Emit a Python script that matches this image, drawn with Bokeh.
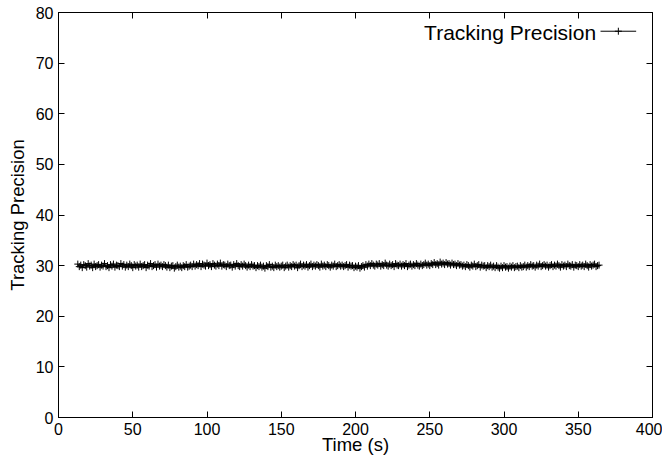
from bokeh.plotting import figure
from bokeh.models import LinearAxis, FixedTicker, Range1d, Label
from bokeh.embed import file_html
from bokeh.resources import INLINE

# ---- data ----
series_name = "Tracking Precision"
x_title = "Time (s)"
y_title = "Tracking Precision"
time_start, time_end = 13, 364
precision = [
    30.3, 29.8, 30.1, 29.6, 30.2, 30.0, 29.7, 30.4, 29.9, 30.1, 29.6, 30.3, 29.8, 30.0, 30.2, 29.7, 30.1, 29.9, 30.4, 29.8,
    30.0, 29.6, 30.2, 29.9, 30.3, 29.7, 30.1, 30.0, 29.8, 30.4, 29.9, 30.2, 29.7, 30.1, 29.8, 30.3, 30.0, 29.6, 30.2, 29.9,
    30.1, 29.7, 30.3, 29.8, 30.0, 30.2, 29.6, 30.1, 29.9, 30.4, 29.8, 30.0, 30.2, 29.7, 30.3, 29.9, 30.1, 29.8, 30.2, 30.0,
    29.7, 30.1, 29.6, 29.9, 30.0, 29.5, 29.8, 30.1, 29.7, 29.9, 29.6, 30.0, 29.8, 30.2, 29.7, 29.9, 30.1, 29.8, 30.3, 29.9,
    30.2, 30.0, 30.4, 29.8, 30.3, 30.1, 29.9, 30.5, 30.0, 30.2, 29.8, 30.4, 30.1, 29.9, 30.3, 30.0, 30.5, 29.9, 30.2, 30.1,
    29.8, 30.3, 30.0, 30.1, 29.7, 30.2, 29.9, 30.4, 30.0, 29.8, 30.2, 29.9, 30.3, 30.0, 29.7, 30.1, 29.8, 30.2, 29.9, 30.0,
    29.6, 30.0, 29.8, 30.1, 29.7, 29.9, 29.5, 30.0, 29.8, 30.2, 29.7, 29.9, 29.6, 30.1, 29.8, 30.0, 29.7, 29.9, 30.1, 29.6,
    29.9, 30.1, 29.7, 30.0, 29.8, 30.2, 29.9, 30.1, 29.6, 30.0, 30.3, 29.8, 30.1, 29.9, 30.2, 29.7, 30.0, 30.3, 29.8, 30.1,
    29.9, 30.2, 30.0, 29.7, 30.3, 29.9, 30.1, 29.8, 30.2, 30.0, 29.7, 30.1, 29.9, 30.3, 29.8, 30.0, 30.2, 29.9, 30.1, 29.8,
    30.0, 30.2, 29.7, 30.1, 29.9, 30.0, 29.6, 29.9, 29.7, 30.0, 29.5, 29.8, 30.0, 29.7, 30.2, 29.9, 30.3, 30.0, 30.4, 30.1,
    29.9, 30.3, 30.1, 30.4, 29.9, 30.2, 30.0, 30.5, 30.1, 29.9, 30.3, 30.0, 30.2, 29.8, 30.4, 30.1, 30.0, 30.3, 29.9, 30.2,
    30.0, 30.4, 29.8, 30.1, 30.3, 29.9, 30.2, 30.0, 30.4, 30.1, 29.9, 30.3, 30.0, 30.2, 30.5, 30.1, 30.3, 30.0, 30.4, 30.2,
    30.6, 30.2, 30.4, 30.1, 30.7, 30.3, 30.5, 30.2, 30.6, 30.3, 30.4, 30.1, 30.5, 30.2, 30.3, 30.0, 30.4, 30.1, 30.2, 29.9,
    30.1, 29.8, 30.2, 30.0, 29.7, 30.1, 29.9, 30.3, 29.8, 30.0, 30.2, 29.7, 30.1, 29.9, 30.0, 29.6, 30.0, 29.8, 30.1, 29.7,
    29.9, 29.6, 30.0, 29.7, 29.5, 29.9, 29.6, 30.0, 29.7, 29.8, 29.5, 29.9, 29.7, 30.0, 29.6, 29.8, 29.9, 29.6, 30.0, 29.7,
    29.8, 30.1, 29.7, 30.0, 29.8, 30.2, 29.9, 30.0, 29.7, 30.1, 29.9, 30.3, 29.8, 30.0, 30.2, 29.9, 30.1, 29.7, 30.0, 30.2,
    29.8, 30.1, 29.9, 30.3, 30.0, 29.7, 30.2, 29.9, 30.1, 29.8, 30.3, 30.0, 29.9, 30.2, 29.7, 30.1, 30.0, 29.8, 30.2, 29.9,
    30.1, 29.8, 30.3, 30.0, 29.7, 30.2, 29.9, 30.1, 30.3, 29.8, 30.0, 30.1,
]
time_s = list(range(time_start, time_end + 1))
x_ticks = [0, 50, 100, 150, 200, 250, 300, 350, 400]
y_ticks = [0, 10, 20, 30, 40, 50, 60, 70, 80]

FONT = "Liberation Sans"

p = figure(width=662, height=457, output_backend="svg", toolbar_location=None,
           x_range=Range1d(0, 400), y_range=Range1d(0, 80),
           min_border_left=58, min_border_right=10, min_border_top=12, min_border_bottom=36)
p.grid.visible = False
p.background_fill_color = "white"
p.border_fill_color = "white"
p.outline_line_color = "black"
p.outline_line_width = 1

def style_axis(ax, ticks, show_labels=True):
    ax.ticker = FixedTicker(ticks=ticks)
    ax.major_tick_in = 6
    ax.major_tick_out = 0
    ax.minor_tick_line_color = None
    ax.axis_line_color = "black"
    ax.major_tick_line_color = "black"
    ax.major_label_text_font = FONT
    ax.major_label_text_color = "black"
    if show_labels:
        ax.major_label_text_font_size = "16px"
    else:
        ax.major_label_text_font_size = "0px"
        ax.major_label_standoff = 0

style_axis(p.xaxis[0], x_ticks)
style_axis(p.yaxis[0], y_ticks)
p.xaxis[0].major_label_standoff = 5
p.yaxis[0].major_label_standoff = 5
p.xaxis[0].axis_label = x_title
p.yaxis[0].axis_label = y_title
for ax in (p.xaxis[0], p.yaxis[0]):
    ax.axis_label_text_font = FONT
    ax.axis_label_text_font_size = "18.5px"
    ax.axis_label_text_font_style = "normal"
    ax.axis_label_text_color = "black"
p.xaxis[0].axis_label_standoff = -4
p.yaxis[0].axis_label_standoff = 5

top_ax = LinearAxis()
right_ax = LinearAxis()
style_axis(top_ax, x_ticks, show_labels=False)
style_axis(right_ax, y_ticks, show_labels=False)
p.add_layout(top_ax, "above")
p.add_layout(right_ax, "right")

# data line with plus markers
p.line(time_s, precision, line_color="black", line_width=1)
p.scatter(time_s, precision, marker="cross", size=7, line_color="black", line_width=1)

# legend (gnuplot style: text then sample)
p.add_layout(Label(x=362, y=76, text=series_name, text_align="right", text_baseline="middle",
                   text_font=FONT, text_font_size="21px", text_color="black"))
p.line([365, 389], [76.3, 76.3], line_color="black", line_width=1)
p.scatter([377], [76.3], marker="cross", size=7, line_color="black", line_width=1)

open("out.html", "w").write(file_html(p, INLINE))
